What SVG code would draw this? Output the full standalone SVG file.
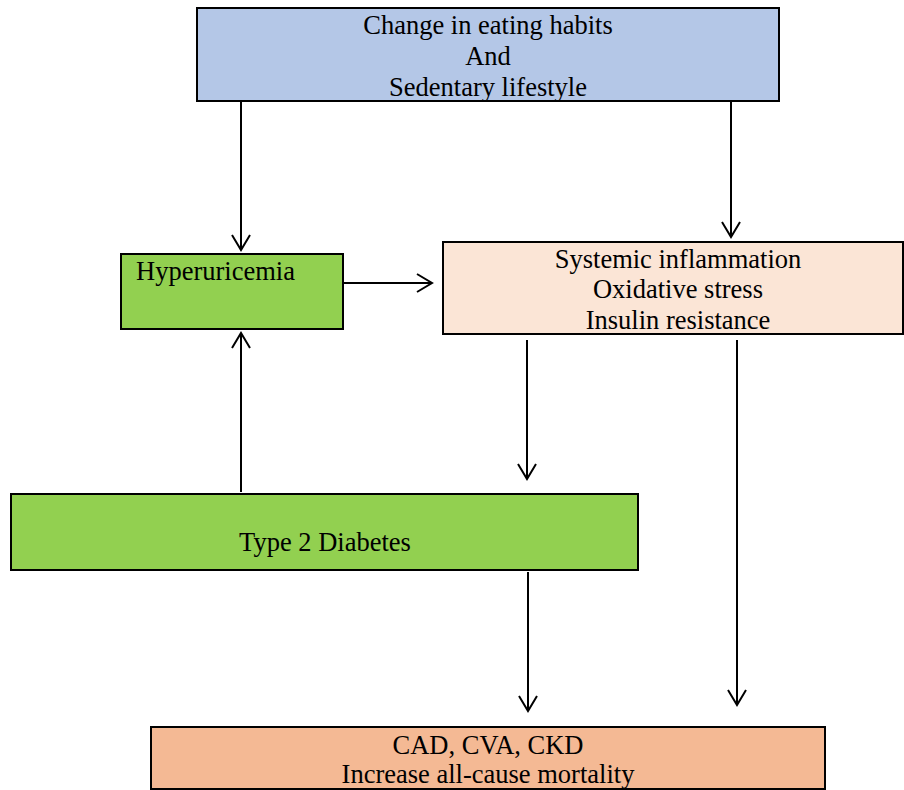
<svg xmlns="http://www.w3.org/2000/svg" width="904" height="790" viewBox="0 0 904 790">
<style>
.box{stroke:#000;stroke-width:2}
.t{font-family:"Liberation Serif","Times New Roman",serif;font-size:26.5px;fill:#000}
.c{text-anchor:middle}
.ln{stroke:#000;stroke-width:2;fill:none}
.ah{stroke:#000;stroke-width:2;fill:none}
</style>
<rect width="904" height="790" fill="#fff"/>
<g id="top">
<rect class="box" x="197" y="8" width="582" height="93" fill="#B4C7E7"/>
<text class="t c" x="488" y="34">Change in eating habits</text>
<text class="t c" x="488" y="65">And</text>
<text class="t c" x="488" y="96">Sedentary lifestyle</text>
</g>
<g id="hyper">
<rect class="box" x="121" y="254" width="222" height="75" fill="#92D050"/>
<text class="t" x="136" y="280">Hyperuricemia</text>
</g>
<g id="systemic">
<rect class="box" x="443" y="242" width="460" height="92" fill="#FBE5D6"/>
<text class="t c" x="678" y="268">Systemic inflammation</text>
<text class="t c" x="678" y="298">Oxidative stress</text>
<text class="t c" x="678" y="329">Insulin resistance</text>
</g>
<g id="t2d">
<rect class="box" x="11" y="494" width="627" height="76" fill="#92D050"/>
<text class="t c" x="325" y="551">Type 2 Diabetes</text>
</g>
<g id="outcome">
<rect class="box" x="151" y="727" width="674" height="62" fill="#F4B994"/>
<text class="t c" x="488" y="754">CAD, CVA, CKD</text>
<text class="t c" x="488" y="783">Increase all-cause mortality</text>
</g>
<g id="connectors">
<path class="ln" d="M241 102V249"/><path class="ah" d="M232 235L241 250L250 235"/>
<path class="ln" d="M731 102V236"/><path class="ah" d="M722 222L731 237L740 222"/>
<path class="ln" d="M344 283H431"/><path class="ah" d="M417 274L432 283L417 292"/>
<path class="ln" d="M241 492V334"/><path class="ah" d="M232 348L241 333L250 348"/>
<path class="ln" d="M527 340V478"/><path class="ah" d="M518 464L527 479L536 464"/>
<path class="ln" d="M737 340V704"/><path class="ah" d="M728 690L737 705L746 690"/>
<path class="ln" d="M528 572V710"/><path class="ah" d="M519 696L528 711L537 696"/>
</g>
</svg>
